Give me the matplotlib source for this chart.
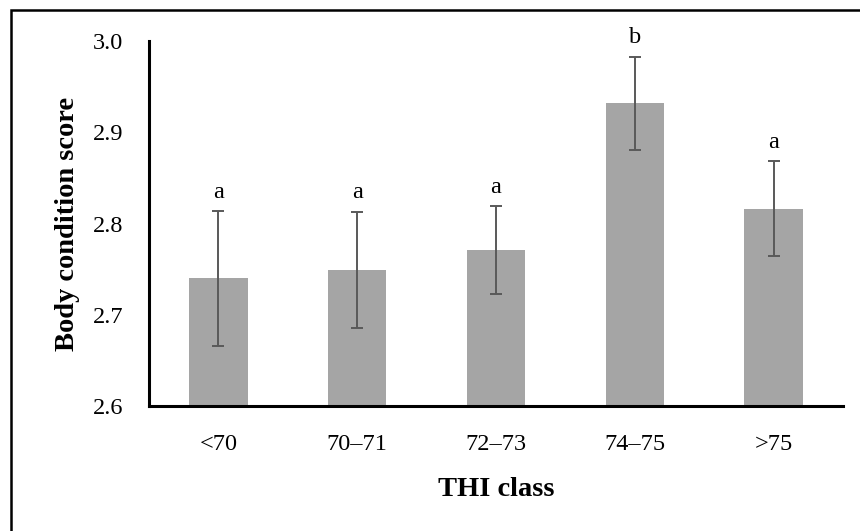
import matplotlib
matplotlib.use('Agg')
import matplotlib.pyplot as plt
from matplotlib.patches import Rectangle

#---    Data
thi_class = ['<70', '70–71', '72–73', '74–75', '>75']
bcs_mean = [2.740, 2.749, 2.771, 2.932, 2.816]
bcs_err = [0.074, 0.064, 0.048, 0.051, 0.052]
letters = ['a', 'a', 'a', 'b', 'a']

plt.rcParams['font.family'] = ['Liberation Serif', 'DejaVu Serif']
fs_ticks = 17.5
fs_labels = 20.5

fig = plt.figure(figsize=(8.6, 5.31), dpi=100)
ax = fig.add_axes([149/860, 1 - 406/531, (843 - 149)/860, (406 - 41)/531])

x = range(len(thi_class))
ax.bar(x, [m - 2.6 for m in bcs_mean], bottom=2.6, width=0.42, color='#A5A5A5', zorder=1)
ax.errorbar(x, bcs_mean, yerr=bcs_err, fmt='none', ecolor='#595959',
            elinewidth=1.4, capsize=4.5, capthick=1.4, zorder=2)

for i in x:
    ax.text(i, bcs_mean[i] + bcs_err[i] + 0.009, letters[i], ha='center', va='bottom',
            fontsize=fs_ticks)

ax.set_xlim(-0.5, 4.5)
ax.set_ylim(2.6, 3.0)
ax.set_yticks([2.6, 2.7, 2.8, 2.9, 3.0])
ax.set_yticklabels(['2.6', '2.7', '2.8', '2.9', '3.0'])
ax.set_xticks(list(x))
ax.set_xticklabels(thi_class)
ax.tick_params(axis='both', length=0, labelsize=fs_ticks)
ax.tick_params(axis='y', pad=18.5)
ax.tick_params(axis='x', pad=20)

for s in ['top', 'right']:
    ax.spines[s].set_visible(False)
for s in ['left', 'bottom']:
    ax.spines[s].set_linewidth(2.2)
    ax.spines[s].set_color('black')

ax.set_xlabel('THI class', fontsize=fs_labels, weight='bold', labelpad=16)
ax.set_ylabel('Body condition score', fontsize=fs_labels, weight='bold', labelpad=9)

#---    Frame around the chart
fig.patches.append(Rectangle((11/860, -0.1), 1.2, 1.1 - 9.5/531, transform=fig.transFigure,
                             fill=False, edgecolor='black', linewidth=1.8))

plt.savefig('out.png', dpi=100)
